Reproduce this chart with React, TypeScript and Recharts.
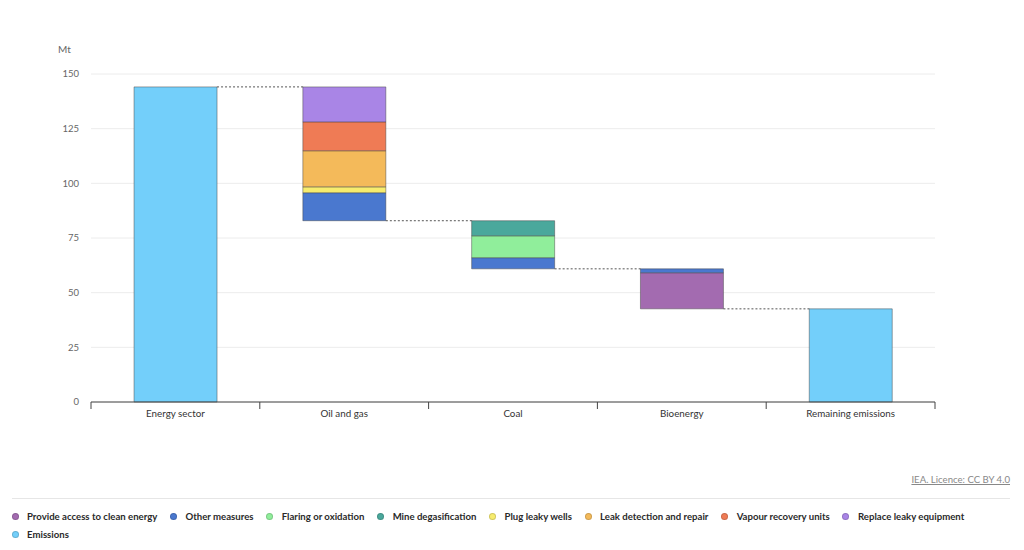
import { BarChart, Bar, XAxis, YAxis, CartesianGrid, Rectangle } from 'recharts';

const categories = ['Energy sector', 'Oil and gas', 'Coal', 'Bioenergy', 'Remaining emissions'];
const emissions = [144.1, 0, 0, 0, 42.6];
const provideAccess = [0, 0, 0, 16.5, 0];
const otherMeasures = [0, 12.8, 5.1, 1.8, 0];
const flaring = [0, 0, 10.0, 0, 0];
const mineDegas = [0, 0, 6.9, 0, 0];
const plugWells = [0, 2.7, 0, 0, 0];
const leakDetection = [0, 16.5, 0, 0, 0];
const vapourRecovery = [0, 13.2, 0, 0, 0];
const replaceEquipment = [0, 16.0, 0, 0, 0];
const yTicks = [0, 25, 50, 75, 100, 125, 150];

const FONT = 'Lato, "Noto Sans", sans-serif';
const GAP = 0.255; // barCategoryGap share on each side

const series = [
  { key: 'provideAccess', name: 'Provide access to clean energy', color: '#a36bb0', values: provideAccess },
  { key: 'otherMeasures', name: 'Other measures', color: '#4a78cf', values: otherMeasures },
  { key: 'flaring', name: 'Flaring or oxidation', color: '#90ee9b', values: flaring },
  { key: 'mineDegas', name: 'Mine degasification', color: '#4aa89c', values: mineDegas },
  { key: 'plugWells', name: 'Plug leaky wells', color: '#f7ec6e', values: plugWells },
  { key: 'leakDetection', name: 'Leak detection and repair', color: '#f4ba5a', values: leakDetection },
  { key: 'vapourRecovery', name: 'Vapour recovery units', color: '#ef7b55', values: vapourRecovery },
  { key: 'replaceEquipment', name: 'Replace leaky equipment', color: '#a985e6', values: replaceEquipment },
  { key: 'emissions', name: 'Emissions', color: '#73cffa', values: emissions },
];

// invisible base under each reduction step
const bases: number[] = [];
let level = 0;
categories.forEach((_, i) => {
  const drop = series.filter(s => s.key !== 'emissions').reduce((t, s) => t + s.values[i], 0);
  if (emissions[i] > 0) {
    bases.push(0);
    level = emissions[i];
  } else {
    level = level - drop;
    bases.push(level);
  }
});

const rows = categories.map((name, i) => {
  const row: any = { name, base: bases[i] };
  series.forEach(s => { row[s.key] = s.values[i]; });
  return row;
});

// dotted link from a bar edge across the gap to the next bar
const connector = (x: number, width: number, y: number) => {
  const gap = (width * 2 * GAP) / (1 - 2 * GAP);
  return <line x1={x + width} x2={x + width + gap} y1={y} y2={y} stroke="#555" strokeDasharray="2 2" />;
};

const BaseShape = (props: any) => {
  const { x, y, width, index, payload } = props;
  if (!payload?.base || index >= categories.length - 1) return <g />;
  return connector(x, width, y);
};

const EmissionShape = (props: any) => {
  const { x, y, width, height, index } = props;
  if (!height) return <g />;
  return (
    <g>
      {index < categories.length - 1 && connector(x, width, y)}
      <Rectangle {...props} />
    </g>
  );
};

const CategoryTick = ({ x, y, payload, index }: any) => {
  const half = payload?.offset || 84.4;
  return (
    <g>
      <line x1={x - half} x2={x - half} y1={y} y2={y + 7} stroke="#444" />
      {index === categories.length - 1 && <line x1={x + half} x2={x + half} y1={y} y2={y + 7} stroke="#444" />}
      <text x={x} y={y} dy={15} textAnchor="middle" fill="#333" fontSize={9.8} fontFamily={FONT}>{payload.value}</text>
    </g>
  );
};

export default function App() {
  return (
    <div style={{ position: 'absolute', left: 0, top: 0, width: 1024, height: 550, background: '#fff', fontFamily: FONT }}>
      <div style={{ position: 'absolute', left: 58, top: 43, fontSize: 10, color: '#666' }}>Mt</div>
      <BarChart width={1024} height={440} data={rows} margin={{ top: 74, right: 89, bottom: 8, left: 0 }} barCategoryGap={`${GAP * 100}%`}>
        <CartesianGrid vertical={false} stroke="#ececec" />
        <YAxis
          domain={[0, 150]}
          ticks={yTicks}
          width={91}
          axisLine={false}
          tickLine={false}
          tickMargin={6}
          tick={{ fontSize: 9.5, fill: '#666', fontFamily: FONT }}
        />
        <XAxis
          dataKey="name"
          height={30}
          stroke="#444"
          tickSize={0}
          tickMargin={0}
          tick={<CategoryTick />}
          interval={0}
        />
        <Bar dataKey="base" stackId="a" fill="transparent" shape={<BaseShape />} isAnimationActive={false} />
        {series.map(s => (
          <Bar
            key={s.key}
            dataKey={s.key}
            name={s.name}
            stackId="a"
            fill={s.color}
            stroke="rgba(60,60,60,0.45)"
            strokeWidth={1}
            shape={s.key === 'emissions' ? <EmissionShape /> : undefined}
            isAnimationActive={false}
          />
        ))}
      </BarChart>
      <div style={{ position: 'absolute', right: 14, top: 474, fontSize: 9.6, color: '#888', textDecoration: 'underline' }}>
        IEA. Licence: CC BY 4.0
      </div>
      <div style={{ position: 'absolute', left: 12, top: 498, width: 998, borderTop: '1px solid #e6e6e6' }} />
      <div style={{ position: 'absolute', left: 12, top: 509, width: 1000, display: 'flex', flexWrap: 'wrap', rowGap: 4 }}>
        {series.map(s => (
          <div key={s.key} style={{ display: 'flex', alignItems: 'center', marginRight: 13.2, height: 14, fontSize: 9.6, fontWeight: 700, color: '#2a2a2a', whiteSpace: 'nowrap' }}>
            <span style={{ width: 7, height: 7, borderRadius: '50%', background: s.color, border: '1px solid rgba(0,0,0,0.15)', marginLeft: -0.5, marginRight: 8.5, boxSizing: 'border-box' }} />
            {s.name}
          </div>
        ))}
      </div>
    </div>
  );
}
